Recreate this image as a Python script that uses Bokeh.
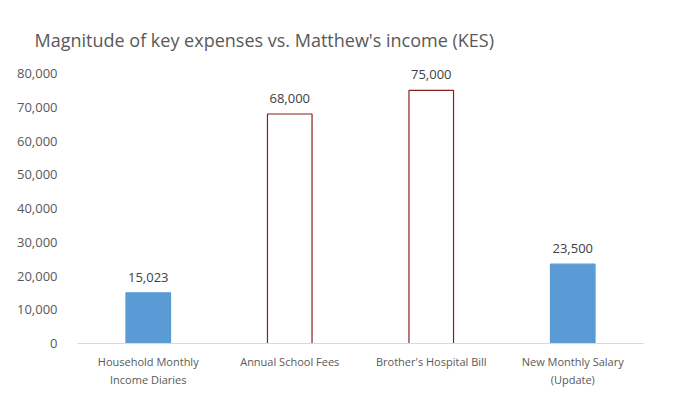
from bokeh.plotting import figure
from bokeh.models import ColumnDataSource, NumeralTickFormatter, FixedTicker, Range1d, LabelSet
from bokeh.core.properties import value
from bokeh.embed import file_html
from bokeh.resources import INLINE

categories = ["Household Monthly\nIncome Diaries", "Annual School Fees",
              "Brother's Hospital Bill", "New Monthly Salary\n(Update)"]
values = [15023, 68000, 75000, 23500]
labels = ["15,023", "68,000", "75,000", "23,500"]
fills = ["#5B9BD5", "white", "white", "#5B9BD5"]
outlines = ["#5B9BD5", "#8B1E1E", "#8B1E1E", "#5B9BD5"]
y_ticks = [0, 10000, 20000, 30000, 40000, 50000, 60000, 70000, 80000]

# frame extended 20 px above the 80,000 tick (270 px per 80,000) so labels aren't clipped
extra_px = 20
y_end = 80000 * (270 + extra_px) / 270

src = ColumnDataSource(dict(cat=categories, val=values, lab=labels, fill=fills, line=outlines))

p = figure(x_range=categories, y_range=Range1d(0, y_end), width=663, height=389,
           output_backend="svg", toolbar_location=None,
           min_border_left=77, min_border_right=20, min_border_top=73 - extra_px,
           min_border_bottom=46)
p.title.text = "Magnitude of key expenses vs. Matthew's income (KES)"
p.title.text_font = "Open Sans"
p.title.text_font_size = "18px"
p.title.text_font_style = "normal"
p.title.text_color = "#595959"
p.title.offset = -43
p.title.standoff = 3

p.vbar(x="cat", top="val", width=0.315, source=src, fill_color="fill", line_color="line",
       line_width=1.2)
p.add_layout(LabelSet(x="cat", y="val", text="lab", source=src, text_align="center",
                      text_baseline="bottom", y_offset=11, text_font_size="13px",
                      text_color="#404040", text_font=value("Open Sans")))

p.outline_line_color = None
p.grid.grid_line_color = None
p.background_fill_color = "white"

p.yaxis.ticker = FixedTicker(ticks=y_ticks)
p.yaxis.formatter = NumeralTickFormatter(format="0,0")
p.yaxis.axis_line_color = None
p.yaxis.major_tick_line_color = None
p.yaxis.minor_tick_line_color = None
p.yaxis.major_label_text_font_size = "13px"
p.yaxis.major_label_text_color = "#595959"
p.yaxis.major_label_text_font = "Open Sans"
p.yaxis.major_label_standoff = 14

p.xaxis.axis_line_color = "#D9D9D9"
p.xaxis.major_tick_line_color = None
p.xaxis.minor_tick_line_color = None
p.xaxis.major_label_text_font_size = "11px"
p.xaxis.major_label_text_color = "#595959"
p.xaxis.major_label_text_font = "Open Sans"
p.xaxis.major_label_standoff = 4
p.x_range.range_padding = 0

open("out.html", "w").write(file_html(p, INLINE))
